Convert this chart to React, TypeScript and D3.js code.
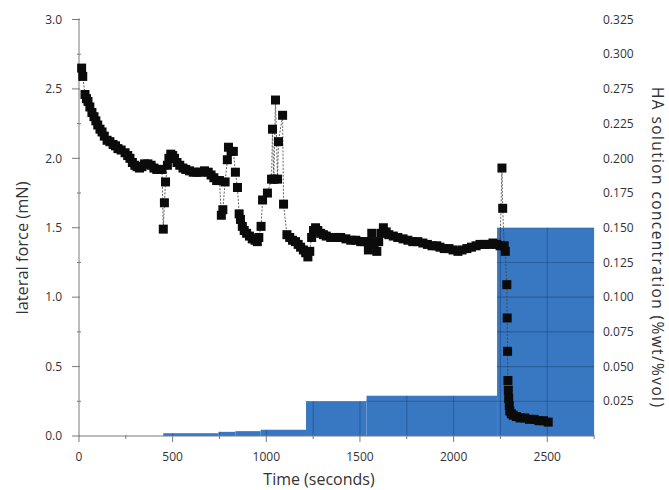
import React from "react";
import * as d3 from "d3";

const timeSec = [
  14, 20, 32, 40, 48, 58, 69, 80, 90, 100, 112, 123, 135, 150, 165, 182, 195, 208, 225, 246, 260, 272, 285, 298, 310, 323, 336, 350, 368, 385, 400, 415, 430, 443,
  450, 456, 462,
  472, 480, 490, 500, 510, 523, 538, 555, 570, 590, 610, 630, 650, 670, 690, 705, 720, 735, 750,
  760, 768, 780, 792, 798, 812, 824, 835, 846, 855, 862, 872, 882, 895, 910, 925, 940, 952, 960,
  972, 980, 1006, 1028, 1033, 1040, 1049, 1060, 1065, 1087, 1092, 1110,
  1125, 1140, 1156, 1170, 1183, 1198, 1210, 1222, 1232, 1242, 1252, 1263, 1275, 1290, 1305, 1320, 1344, 1370, 1397, 1425, 1451, 1478, 1504, 1525,
  1545, 1555, 1563, 1575, 1590, 1600, 1612, 1625, 1640, 1654, 1678, 1702, 1730, 1756, 1782, 1809, 1836, 1860, 1885, 1910, 1927, 1950, 1975, 1997, 2023, 2045, 2071, 2095, 2120, 2141, 2165, 2190, 2210, 2230, 2248,
  2258, 2262, 2270, 2276, 2284, 2286, 2288, 2290, 2292, 2294, 2297, 2300, 2308, 2318, 2335, 2355, 2380, 2405, 2430, 2455, 2480, 2505,
];

const lateralForce = [
  2.65, 2.59, 2.46, 2.43, 2.41, 2.37, 2.33, 2.30, 2.27, 2.24, 2.21, 2.19, 2.16, 2.13, 2.12, 2.10, 2.09, 2.07, 2.06, 2.04, 2.02, 2.00, 1.97, 1.95, 1.94, 1.93, 1.94, 1.96, 1.96, 1.95, 1.93, 1.92, 1.92, 1.92,
  1.49, 1.68, 1.83,
  1.95, 2.00, 2.03, 2.02, 2.00, 1.97, 1.95, 1.93, 1.92, 1.91, 1.90, 1.90, 1.90, 1.91, 1.90, 1.88, 1.86, 1.84, 1.84,
  1.59, 1.63, 1.83, 1.99, 2.08, 2.05, 2.05, 1.90, 1.79, 1.60, 1.56, 1.51, 1.48, 1.46, 1.44, 1.42, 1.41, 1.40, 1.43,
  1.51, 1.70, 1.75, 1.85, 2.21, 1.85, 2.42, 1.85, 2.12, 2.31, 1.67, 1.45,
  1.43, 1.41, 1.40, 1.38, 1.36, 1.34, 1.32, 1.29, 1.33, 1.43, 1.48, 1.50, 1.48, 1.46, 1.45, 1.44, 1.43, 1.43, 1.43, 1.42, 1.41, 1.41, 1.40, 1.40,
  1.34, 1.40, 1.46, 1.38, 1.33, 1.40, 1.46, 1.50, 1.47, 1.45, 1.44, 1.43, 1.42, 1.41, 1.40, 1.40, 1.39, 1.38, 1.37, 1.37, 1.36, 1.35, 1.35, 1.34, 1.33, 1.34, 1.35, 1.36, 1.37, 1.38, 1.38, 1.38, 1.39, 1.38, 1.37,
  1.93, 1.64, 1.37, 1.33, 1.09, 0.85, 0.61, 0.40, 0.33, 0.27, 0.22, 0.18, 0.16, 0.15, 0.14, 0.13, 0.13, 0.12, 0.12, 0.11, 0.11, 0.10,
];

// HA solution concentration steps (%wt/%vol)
const barStart = [450, 745, 835, 970, 1212, 1535, 2232];
const barEnd = [745, 835, 970, 1212, 1535, 2232, 2750];
const barConc = [0.002, 0.003, 0.0035, 0.0045, 0.025, 0.029, 0.15];

const xTicks = [0, 500, 1000, 1500, 2000, 2500];
const xMinorTicks = [250, 750, 1250, 1750, 2250, 2750];
const leftTicks = [0, 0.5, 1, 1.5, 2, 2.5, 3];
const leftTickLabels = ["0.0", "0.5", "1.0", "1.5", "2.0", "2.5", "3.0"];
const leftMinorTicks = [0.25, 0.75, 1.25, 1.75, 2.25, 2.75];
const rightTickValues = [0.025, 0.05, 0.075, 0.1, 0.125, 0.15, 0.175, 0.2, 0.225, 0.25, 0.275, 0.3];
const rightTickLabels = ["0.025", "0.050", "0.075", "0.100", "0.125", "0.150", "0.175", "0.200", "0.225", "0.275", "0.300", "0.325"];
const gridTimes = [250, 500, 750, 1000, 1250, 1500, 1750, 2000, 2250, 2500];

const W = 669;
const H = 490;
const FONT = "'Open Sans', 'Noto Sans', sans-serif";

export default function App() {
  const x = d3.scaleLinear().domain([0, 2750]).range([79, 594.1]);
  const y = d3.scaleLinear().domain([0, 3]).range([436, 19.5]);
  const yR = d3.scaleLinear().domain([0, 0.3]).range([436, 19.5]);

  const pts = timeSec.map((t, i) => [t, lateralForce[i]] as [number, number]);
  const line = d3
    .line<[number, number]>()
    .x((d) => x(d[0]))
    .y((d) => y(d[1]));

  const axisColor = "#7a7a7a";
  const textColor = "#333";
  const sq = 9;

  return (
    <svg
      width={W}
      height={H}
      style={{ position: "absolute", left: 0, top: 0, background: "#fff" }}
      fontFamily={FONT}
    >
      <defs>
        <clipPath id="barClip">
          {barConc.map((c, i) => (
            <rect
              key={i}
              x={x(barStart[i])}
              y={yR(c)}
              width={x(barEnd[i]) - x(barStart[i])}
              height={yR(0) - yR(c)}
            />
          ))}
        </clipPath>
      </defs>
      <rect x={0} y={0} width={W} height={H} fill="#fff" />

      {/* concentration bars */}
      {barConc.map((c, i) => (
        <rect
          key={i}
          x={x(barStart[i])}
          y={yR(c)}
          width={x(barEnd[i]) - x(barStart[i])}
          height={yR(0) - yR(c)}
          fill="#3878c2"
        />
      ))}
      {/* grid visible through the bars */}
      <g clipPath="url(#barClip)" stroke="#1b3d70" strokeOpacity={0.45} strokeWidth={1.1}>
        {gridTimes.map((t) => (
          <line key={"gv" + t} x1={x(t)} x2={x(t)} y1={yR(0.3)} y2={yR(0)} />
        ))}
        {rightTickValues.map((v) => (
          <line key={"gh" + v} x1={x(0)} x2={x(2750)} y1={yR(v)} y2={yR(v)} />
        ))}
      </g>

      {/* axes */}
      <g stroke={axisColor} strokeWidth={1}>
        <line x1={x(0)} x2={x(0)} y1={y(3) - 1} y2={y(0)} />
        {leftTicks.map((v) => (
          <line key={"lt" + v} x1={x(0) - 7} x2={x(0) + 1} y1={y(v)} y2={y(v)} />
        ))}
        {leftMinorTicks.map((v) => (
          <line key={"lm" + v} x1={x(0) - 2} x2={x(0) + 2} y1={y(v)} y2={y(v)} />
        ))}
        <line x1={x(0)} x2={x(2750)} y1={y(0)} y2={y(0)} />
        {xTicks.map((t) => (
          <line key={"xt" + t} x1={x(t)} x2={x(t)} y1={y(0)} y2={y(0) + 6} />
        ))}
        {xMinorTicks.map((t) => (
          <line key={"xm" + t} x1={x(t)} x2={x(t)} y1={y(0) - 1} y2={y(0) + 3} />
        ))}
      </g>

      {/* connecting line */}
      <path
        d={line(pts) || ""}
        fill="none"
        stroke="#3b3b3b"
        strokeWidth={0.8}
        strokeDasharray="2 1.5"
      />
      {/* square markers */}
      <g fill="#0b0b0b">
        {pts.map((d, i) => (
          <rect key={i} x={x(d[0]) - sq / 2} y={y(d[1]) - sq / 2} width={sq} height={sq} />
        ))}
      </g>

      {/* left tick labels */}
      <g fontSize={12} fill={textColor} textAnchor="end">
        {leftTicks.map((v, i) => (
          <text key={"ll" + v} x={62} y={y(v)} dy="0.35em">
            {leftTickLabels[i]}
          </text>
        ))}
      </g>
      {/* right tick labels */}
      <g fontSize={12} fill={textColor} textAnchor="start">
        {rightTickValues.map((v, i) => (
          <text key={"rl" + v} x={603} y={yR(v)} dy="0.35em">
            {rightTickLabels[i]}
          </text>
        ))}
      </g>
      {/* bottom tick labels */}
      <g fontSize={12} fill={textColor} textAnchor="middle">
        {xTicks.map((t) => (
          <text key={"xl" + t} x={x(t)} y={461}>
            {t}
          </text>
        ))}
      </g>

      {/* titles */}
      <text x={319} y={485} fontSize={16} fill={textColor} textAnchor="middle">
        Time (seconds)
      </text>
      <text
        transform="translate(28,248) rotate(-90)"
        fontSize={16}
        fill={textColor}
        textAnchor="middle"
        textLength={133}
        lengthAdjust="spacingAndGlyphs"
      >
        lateral force (mN)
      </text>
      <text
        transform="translate(652,247) rotate(90)"
        fontSize={15.5}
        fill={textColor}
        textAnchor="middle"
        textLength={320}
        lengthAdjust="spacing"
      >
        HA solution concentration (%wt/%vol)
      </text>
    </svg>
  );
}
